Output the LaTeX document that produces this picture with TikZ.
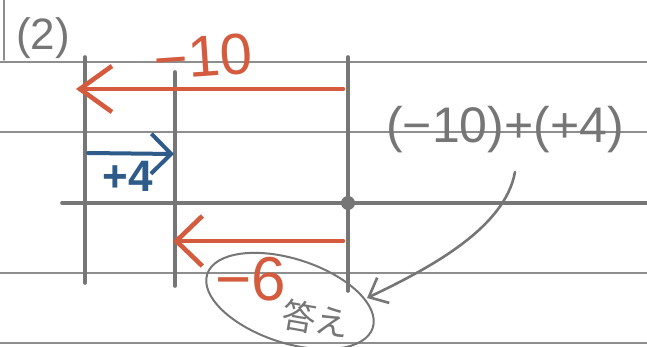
\documentclass[tikz,border=0pt]{standalone}
\usepackage{fontspec}
\setmainfont{Liberation Sans}
\newfontfamily\jpfont{Noto Sans CJK JP}
\usetikzlibrary{arrows.meta}

\definecolor{penred}{HTML}{D45B3E}
\definecolor{penblue}{HTML}{2F5B8A}
\definecolor{pencil}{HTML}{767676}
\definecolor{ruleline}{HTML}{8E8E8E}

\begin{document}
\begin{tikzpicture}[x=1pt,y=-1pt,line cap=round,line join=round,every node/.style={inner sep=1pt},
  ruled/.style={draw=ruleline,line width=1.6pt},
  tickline/.style={draw=pencil,line width=3.6pt},
  redarrow/.style={draw=penred,line width=4.6pt},
  bluearrow/.style={draw=penblue,line width=4pt},
  redtext/.style={text=penred,font=\fontsize{58}{58}\selectfont},
  graytext/.style={text=pencil,font=\fontsize{50}{50}\selectfont}]
  \def\ln{203}
  \useasboundingbox (0,0) rectangle (647,347);
  \fill[white] (0,0) rectangle (647,347);
  % ruled paper
  \foreach \y in {62,132,273,343}
    \draw[ruled] (0,\y) -- (647,\y);
  \draw[ruled] (4,0) -- (4,60);
  % number line
  \draw[tickline] (62,\ln) -- (647,\ln);
  \draw[tickline] (85,57) -- (85,283);
  \draw[tickline] (175,72) -- (175,286);
  \draw[tickline] (348,57) -- (348,291);
  \fill[pencil] (348,\ln) circle (7);
  \node[graytext,font=\fontsize{44}{44}\selectfont] (num) at (43,38) {(2)};
  % -10
  \coordinate (tenR) at (343,89);
  \coordinate (tenL) at (76,89);
  \draw[redarrow,-{Straight Barb[length=32pt,width=46pt,line width=4.6pt]}] (tenR) -- (tenL);
  \node[redtext,rotate=4] (tenlbl) at (203,57) {−10};
  % +4
  \coordinate (fourL) at (88,153);
  \coordinate (fourR) at (174,154);
  \draw[bluearrow,-{Straight Barb[length=20pt,width=40pt,line width=4pt]}] (fourL) -- (fourR);
  \node[text=penblue,font=\fontsize{44}{44}\selectfont\bfseries] (fourlbl) at (128,176) {+4};
  % -6
  \coordinate (sixR) at (343,241);
  \coordinate (sixL) at (173,241);
  \draw[redarrow,-{Straight Barb[length=26pt,width=50pt,line width=4.6pt]}] (sixR) -- (sixL);
  \node[redtext,font=\fontsize{62}{62}\selectfont] (sixlbl) at (251,279) {−6};
  % answer
  \draw[pencil,line width=2pt,rotate around={-18:(290,301)}] (290,301) ellipse (87 and 42);
  \node[text=pencil,font=\jpfont\fontsize{34}{34}\selectfont,rotate=-10] (anslbl) at (316,319) {答え};
  \node[graytext] (expr) at (505,130) {(−10)+(+4)};
  \coordinate (curveA) at (515,172);
  \coordinate (ansE) at (367,298);
  \draw[pencil,line width=2.6pt,-{Straight Barb[length=16pt,width=28pt,line width=2.6pt]}] (curveA) .. controls (505,228) and (430,268) .. (ansE);
\end{tikzpicture}
\end{document}
